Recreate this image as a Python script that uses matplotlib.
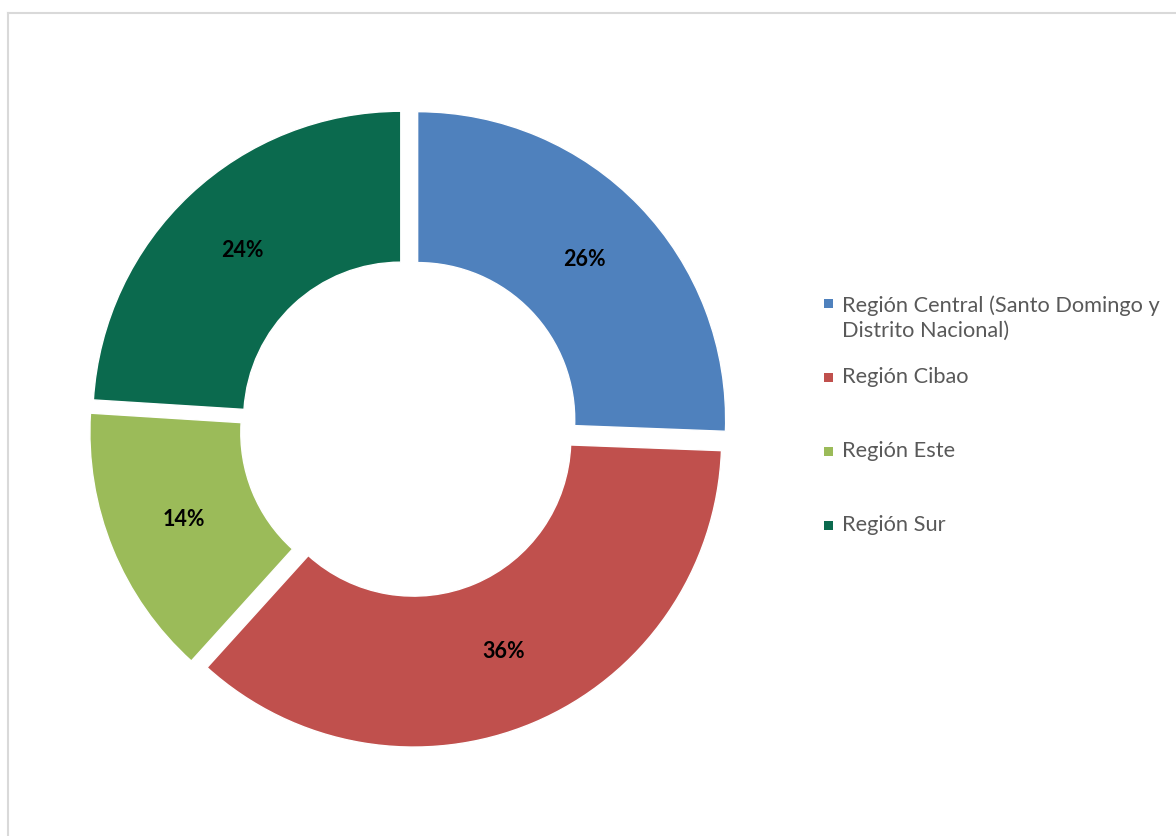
import matplotlib
matplotlib.use("Agg")
import matplotlib.pyplot as plt
from matplotlib.lines import Line2D
from matplotlib.patches import Rectangle

categories = ["Región Central (Santo Domingo y\nDistrito Nacional)", "Región Cibao", "Región Este", "Región Sur"]
values = [25.6, 36.1, 14.3, 24.0]
colors = ["#4F81BD", "#C0504D", "#9BBB59", "#0B6A4E"]

W, H = 1176, 836
fig = plt.figure(figsize=(W / 100, H / 100), dpi=100)
ax = fig.add_axes([0, 0, 1, 1])

R = 308
cx, cy = 409, H - 428
explode = [12] * len(values)
wedges, texts, autotexts = ax.pie(
    values, colors=colors, startangle=90, counterclock=False,
    radius=R, center=(cx, cy), explode=explode,
    autopct=lambda p: f"{p:.0f}%", pctdistance=0.75,
    wedgeprops=dict(width=R * 0.49, edgecolor="white", linewidth=1),
    textprops=dict(family=["Lato", "DejaVu Sans"], fontsize=15.5, fontweight="bold", color="black"),
)
ax.set_xlim(0, W)
ax.set_ylim(0, H)
ax.set_aspect("equal")
ax.axis("off")

# legend (manual placement)
leg_y = [303, 377, 451, 525]
for lab, col, y in zip(categories, colors, leg_y):
    fy = 1 - y / H
    fig.patches.append(Rectangle((824 / W, fy - 4.5 / H), 9 / W, 9 / H,
                                 transform=fig.transFigure, facecolor=col, edgecolor="none"))
    fig.text(842 / W, fy + 8 / H if "\n" in lab else fy, lab, ha="left",
             va="top" if "\n" in lab else "center",
             fontsize=15.7, color="#595959", family=["Lato", "DejaVu Sans"], linespacing=1.35)

# outer border
fig.add_artist(Line2D([7.5 / W, 7.5 / W], [0, 1 - 12.5 / H], transform=fig.transFigure, color="#D9D9D9", lw=1.5))
fig.add_artist(Line2D([7.5 / W, 1], [1 - 12.5 / H, 1 - 12.5 / H], transform=fig.transFigure, color="#D9D9D9", lw=1.5))

fig.savefig("out.png", dpi=100)
